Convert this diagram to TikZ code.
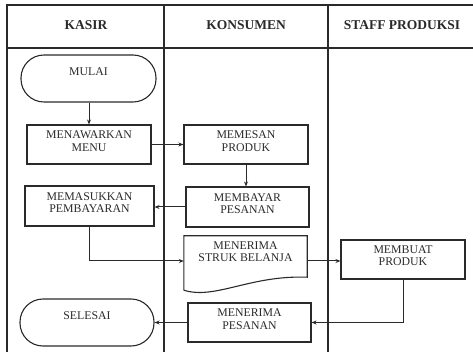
\documentclass[tikz,border=0pt]{standalone}
\usepackage{fontspec}
\setmainfont{Liberation Serif}
\usetikzlibrary{arrows.meta,calc}
\definecolor{ink}{HTML}{2A2A2A}
\begin{document}
\begin{tikzpicture}[x=1pt,y=-1pt,
  every node/.style={text=ink},
  frame/.style={draw=ink,line width=1.1pt},
  proc/.style={draw=ink,line width=1.1pt,rectangle,inner sep=0pt},
  term/.style={draw=ink,line width=1.1pt,rectangle,rounded corners=23pt,inner sep=0pt,minimum width=135pt,minimum height=47pt},
  txt/.style={align=center,font=\fontsize{11.8}{12.6}\selectfont,inner sep=0pt},
  head/.style={font=\bfseries\fontsize{13.5}{15}\selectfont,inner sep=0pt},
  flow/.style={draw=ink,line width=1pt,-{Stealth[length=5pt,width=4pt]}}
]
\useasboundingbox (0,0) rectangle (473,352);
% swimlane frame
\coordinate (tl) at (7,5);
\coordinate (tr) at (475,5);
\coordinate (hl) at (7,48);
\coordinate (hr) at (475,48);
\coordinate (bl) at (7,354);
\coordinate (c1t) at (164,5);
\coordinate (c1b) at (164,354);
\coordinate (c2t) at (328,5);
\coordinate (c2b) at (328,354);
\draw[frame] (bl) -- (tl) -- (tr);
\draw[frame] (hl) -- (hr);
\draw[frame] (c1t) -- (c1b);
\draw[frame] (c2t) -- (c2b);
\node[head] (h1) at (86,25) {KASIR};
\node[head] (h2) at (246,25) {KONSUMEN};
\node[head] (h3) at (402,25) {STAFF PRODUKSI};
% shapes
\node[term] (mulai) at (88.5,78.5) {};
\node[txt] (tmulai) at (88.5,72) {MULAI};
\node[proc,minimum width=124pt,minimum height=39pt] (tawar) at (89,144.5) {};
\node[txt] (ttawar) at (89,141) {MENAWARKAN\\MENU};
\node[proc,minimum width=124pt,minimum height=39pt] (pesan) at (246,144.5) {};
\node[txt] (tpesan) at (246,141) {MEMESAN\\PRODUK};
\node[proc,minimum width=123pt,minimum height=40pt] (bayar) at (247.5,207) {};
\node[txt] (tbayar) at (247.5,203.5) {MEMBAYAR\\PESANAN};
\node[proc,minimum width=129pt,minimum height=40pt] (masuk) at (89.5,206) {};
\node[txt] (tmasuk) at (89.5,202.5) {MEMASUKKAN\\PEMBAYARAN};
\node[inner sep=0pt,minimum width=123pt,minimum height=50pt] (struk) at (245.5,261) {};
\draw[draw=ink,line width=1.1pt] ($(struk.south west)+(0,4)$) -- (struk.north west) -- (struk.north east) -- ($(struk.south east)+(0,-9)$)
  .. controls (250,275) and (215,300) .. ($(struk.south west)+(0,4)$);
\node[txt] (tstruk) at (245.5,251.5) {MENERIMA\\STRUK BELANJA};
\node[proc,minimum width=124pt,minimum height=39pt] (buat) at (403,259.5) {};
\node[txt] (tbuat) at (403,255.5) {MEMBUAT\\PRODUK};
\node[proc,minimum width=123pt,minimum height=39pt] (terima) at (249.5,322.5) {};
\node[txt] (tterima) at (249.5,319) {MENERIMA\\PESANAN};
\node[term,minimum width=134pt] (selesai) at (87,322.5) {};
\node[txt] (tselesai) at (87,316) {SELESAI};
% connectors
\draw[flow] (mulai.south -| tawar.north) -- (tawar.north);
\draw[flow] (tawar.east) -- (pesan.west);
\draw[flow] (pesan.south) -- (pesan.south |- bayar.north);
\draw[flow] (bayar.west) -- (bayar.west -| masuk.east);
\draw[flow] (masuk.south) |- (struk.west);
\draw[flow] (struk.east) -- (struk.east -| buat.west);
\draw[flow] (buat.south) |- (terima.east);
\draw[flow] (terima.west) -- (terima.west -| selesai.east);
\end{tikzpicture}
\end{document}
